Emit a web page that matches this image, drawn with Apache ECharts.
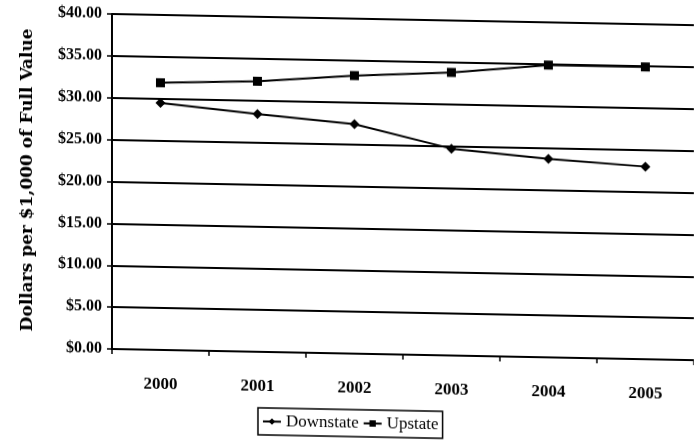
<!DOCTYPE html>
<html>
<head>
<meta charset="utf-8">
<script src="https://cdn.jsdelivr.net/npm/echarts@6/dist/echarts.min.js"></script>
<style>
  html, body { margin: 0; padding: 0; background: #fff; overflow: hidden; }
  /* slight vertical shear, as on the printed page */
  #chart { width: 694px; height: 440px; transform: skewY(1.1deg); transform-origin: 112px 0; }
</style>
</head>
<body>
<div id="chart"></div>
<script>
// Full-value tax rates, dollars per $1,000
const years = ['2000', '2001', '2002', '2003', '2004', '2005'];
const downstate = [29.5, 28.4, 27.4, 24.7, 23.7, 23.0];
const upstate = [31.9, 32.3, 33.2, 33.8, 34.9, 34.9];
const yTicks = { min: 0, max: 40, step: 5 };

const serif = '"Liberation Serif", "DejaVu Serif", serif';
const chart = echarts.init(document.getElementById('chart'), null, { renderer: 'canvas' });

chart.setOption({
  animation: false,
  backgroundColor: '#fff',
  grid: { left: 112, top: 14, width: 588, height: 335, containLabel: false },
  xAxis: {
    type: 'category',
    data: years,
    boundaryGap: true,
    axisLine: { lineStyle: { color: '#000', width: 2 } },
    axisTick: { show: true, length: 5, lineStyle: { color: '#000', width: 1.5 } },
    axisLabel: { color: '#000', fontFamily: serif, fontWeight: 'bold', fontSize: 17, margin: 26 },
    splitLine: { show: false }
  },
  yAxis: {
    type: 'value',
    min: yTicks.min,
    max: yTicks.max,
    interval: yTicks.step,
    name: 'Dollars per $1,000 of Full Value',
    nameLocation: 'middle',
    nameGap: 76,
    nameRotate: 90,
    nameTextStyle: { color: '#000', fontFamily: '"DejaVu Serif", serif', fontWeight: 'bold', fontSize: 17 },
    axisLine: { show: true, lineStyle: { color: '#000', width: 2 } },
    axisTick: { show: true, length: 5, lineStyle: { color: '#000', width: 1.5 } },
    axisLabel: {
      color: '#000', fontFamily: serif, fontWeight: 'bold', fontSize: 16, margin: 10,
      formatter: v => '$' + v.toFixed(2)
    },
    splitLine: { show: true, lineStyle: { color: '#000', width: 2 } }
  },
  legend: {
    left: 258,
    top: 405,
    itemGap: 4,
    itemWidth: 18,
    itemHeight: 8,
    padding: [5, 4, 5, 4],
    borderColor: '#000',
    borderWidth: 1.5,
    textStyle: { color: '#000', fontFamily: serif, fontSize: 17 },
    data: ['Downstate', 'Upstate']
  },
  series: [
    {
      name: 'Downstate',
      type: 'line',
      data: downstate,
      symbol: 'diamond',
      symbolSize: 10,
      lineStyle: { color: '#000', width: 2 },
      itemStyle: { color: '#000' }
    },
    {
      name: 'Upstate',
      type: 'line',
      data: upstate,
      symbol: 'rect',
      symbolSize: 9,
      lineStyle: { color: '#000', width: 2 },
      itemStyle: { color: '#000' }
    }
  ]
});
</script>
</body>
</html>
